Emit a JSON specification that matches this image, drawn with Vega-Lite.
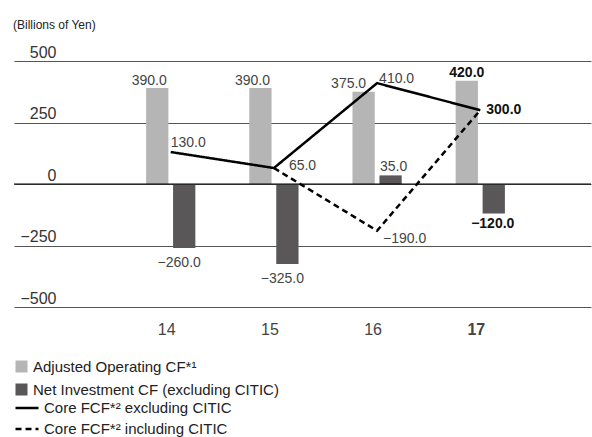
{
  "$schema": "https://vega.github.io/schema/vega-lite/v6.json",
  "width": 577,
  "height": 246,
  "autosize": {"type": "none"},
  "padding": {"left": 14, "top": 61, "right": 1, "bottom": 130},
  "background": "white",
  "title": {"text": "(Billions of Yen)", "anchor": "start", "frame": "group", "offset": 12, "fontSize": 12, "fontWeight": "normal", "color": "#222", "font": "Liberation Sans", "dx": -1},
  "config": {"view": {"stroke": null}, "font": "Liberation Sans"},
  "datasets": {
    "bars": [
      {"year": "14", "series": "Adjusted Operating CF*¹", "key": "op", "value": 390},
      {"year": "15", "series": "Adjusted Operating CF*¹", "key": "op", "value": 390},
      {"year": "16", "series": "Adjusted Operating CF*¹", "key": "op", "value": 375},
      {"year": "17", "series": "Adjusted Operating CF*¹", "key": "op", "value": 420},
      {"year": "14", "series": "Net Investment CF (excluding CITIC)", "key": "inv", "value": -260},
      {"year": "15", "series": "Net Investment CF (excluding CITIC)", "key": "inv", "value": -325},
      {"year": "16", "series": "Net Investment CF (excluding CITIC)", "key": "inv", "value": 35},
      {"year": "17", "series": "Net Investment CF (excluding CITIC)", "key": "inv", "value": -120}
    ],
    "lines": [
      {"year": "14", "series": "Core FCF*² excluding CITIC", "key": "ex", "value": 130},
      {"year": "15", "series": "Core FCF*² excluding CITIC", "key": "ex", "value": 65},
      {"year": "16", "series": "Core FCF*² excluding CITIC", "key": "ex", "value": 410},
      {"year": "17", "series": "Core FCF*² excluding CITIC", "key": "ex", "value": 300},
      {"year": "15", "series": "Core FCF*² including CITIC", "key": "in", "value": 65},
      {"year": "16", "series": "Core FCF*² including CITIC", "key": "in", "value": -190},
      {"year": "17", "series": "Core FCF*² including CITIC", "key": "in", "value": 300}
    ]
  },
  "encoding": {
    "x": {
      "field": "year", "type": "ordinal",
      "scale": {"paddingInner": 0, "paddingOuter": 0.796, "align": 0.64},
      "axis": {"title": null, "domain": false, "ticks": false, "tickSize": 0, "labelPadding": 14, "labelFontSize": 16, "labelColor": "#444", "labelAngle": 0, "labelOffset": -4,
        "labelFontWeight": {"condition": {"test": "datum.value == '17'", "value": "bold"}, "value": "normal"}}
    },
    "y": {
      "field": "value", "type": "quantitative",
      "scale": {"domain": [-500, 500], "nice": false, "zero": false},
      "axis": {"title": null, "values": [-500, -250, 0, 250, 500], "grid": true, "gridColor": "#555", "gridWidth": 1, "domain": false, "ticks": false, "tickSize": 0,
        "labelAlign": "right", "labelPadding": -42, "labelBaseline": "alphabetic", "labelOffset": -4, "labelFontSize": 16, "labelColor": "#333"}
    }
  },
  "layer": [
    {
      "data": {"name": "bars"},
      "mark": {"type": "bar"},
      "encoding": {
        "xOffset": {"field": "series", "type": "nominal", "scale": {"domain": ["Adjusted Operating CF*¹", "Net Investment CF (excluding CITIC)"], "paddingInner": 0.174, "paddingOuter": 1.326}},
        "fill": {"field": "series", "type": "nominal",
          "scale": {"domain": ["Adjusted Operating CF*¹", "Net Investment CF (excluding CITIC)"], "range": ["#b5b5b5", "#595757"]},
          "legend": {"title": null, "orient": "none", "legendX": 0, "legendY": 298, "symbolType": "square", "symbolSize": 144, "symbolStrokeWidth": 0, "labelFontSize": 15, "labelColor": "#222", "labelOffset": 4, "labelLimit": 500, "rowPadding": 7, "padding": 0}}
      }
    },
    {
      "data": {"values": [{"z": 0}]},
      "mark": {"type": "rule", "color": "#000", "strokeWidth": 1.2},
      "encoding": {"y": {"field": "z", "type": "quantitative"}, "x": {"value": 0}, "x2": {"value": 577}}
    },
    {
      "data": {"name": "lines"},
      "mark": {"type": "line", "color": "black", "strokeWidth": 2.5},
      "encoding": {
        "strokeDash": {"field": "series", "type": "nominal",
          "scale": {"domain": ["Core FCF*² excluding CITIC", "Core FCF*² including CITIC"], "range": [[1, 0], [6, 4]]},
          "legend": {"title": null, "orient": "none", "legendX": 0, "legendY": 334, "symbolType": "stroke", "symbolSize": 529, "symbolStrokeWidth": 2.5, "symbolStrokeColor": "black", "labelFontSize": 15, "labelColor": "#222", "labelOffset": 4, "labelLimit": 500, "rowPadding": -3, "padding": 0}}
      }
    },
    {
      "data": {"name": "bars"},
      "transform": [{"filter": "datum.key == 'op' && (datum.year == '14' || datum.year == '15')"}],
      "mark": {"type": "text", "dx": -8, "dy": -3, "baseline": "alphabetic", "fontSize": 14, "color": "#444"},
      "encoding": {"xOffset": {"field": "series", "type": "nominal"}, "text": {"field": "value", "type": "quantitative", "format": ".1f"}}
    },
    {
      "data": {"name": "bars"},
      "transform": [{"filter": "datum.key == 'op' && datum.year == '16'"}],
      "mark": {"type": "text", "dx": -15, "dy": -4, "baseline": "alphabetic", "fontSize": 14, "color": "#444"},
      "encoding": {"xOffset": {"field": "series", "type": "nominal"}, "text": {"field": "value", "type": "quantitative", "format": ".1f"}}
    },
    {
      "data": {"name": "bars"},
      "transform": [{"filter": "datum.key == 'op' && datum.year == '17'"}],
      "mark": {"type": "text", "dx": 0, "dy": -4, "baseline": "alphabetic", "fontSize": 14, "fontWeight": "bold", "color": "#111"},
      "encoding": {"xOffset": {"field": "series", "type": "nominal"}, "text": {"field": "value", "type": "quantitative", "format": ".1f"}}
    },
    {
      "data": {"name": "bars"},
      "transform": [{"filter": "datum.key == 'inv' && datum.value < 0 && datum.year != '17'"}],
      "mark": {"type": "text", "dx": -5, "dy": 19, "baseline": "alphabetic", "fontSize": 14, "color": "#444"},
      "encoding": {"xOffset": {"field": "series", "type": "nominal"}, "text": {"field": "value", "type": "quantitative", "format": ".1f"}}
    },
    {
      "data": {"name": "bars"},
      "transform": [{"filter": "datum.key == 'inv' && datum.year == '16'"}],
      "mark": {"type": "text", "dx": 3, "dy": -4, "baseline": "alphabetic", "fontSize": 14, "color": "#444"},
      "encoding": {"xOffset": {"field": "series", "type": "nominal"}, "text": {"field": "value", "type": "quantitative", "format": ".1f"}}
    },
    {
      "data": {"name": "bars"},
      "transform": [{"filter": "datum.key == 'inv' && datum.year == '17'"}],
      "mark": {"type": "text", "dx": -1, "dy": 14, "baseline": "alphabetic", "fontSize": 14, "fontWeight": "bold", "color": "#111"},
      "encoding": {"xOffset": {"field": "series", "type": "nominal"}, "text": {"field": "value", "type": "quantitative", "format": ".1f"}}
    },
    {
      "data": {"name": "lines"},
      "transform": [{"filter": "datum.key == 'ex' && datum.year == '14'"}],
      "mark": {"type": "text", "align": "left", "dx": 0, "dy": -5, "baseline": "alphabetic", "fontSize": 14, "color": "#444"},
      "encoding": {"text": {"field": "value", "type": "quantitative", "format": ".1f"}}
    },
    {
      "data": {"name": "lines"},
      "transform": [{"filter": "datum.key == 'ex' && datum.year == '16'"}],
      "mark": {"type": "text", "align": "left", "dx": 2, "dy": 0, "baseline": "alphabetic", "fontSize": 14, "color": "#444"},
      "encoding": {"text": {"field": "value", "type": "quantitative", "format": ".1f"}}
    },
    {
      "data": {"name": "lines"},
      "transform": [{"filter": "datum.key == 'ex' && datum.year == '15'"}],
      "mark": {"type": "text", "align": "left", "dx": 15, "dy": 2, "baseline": "alphabetic", "fontSize": 14, "color": "#444"},
      "encoding": {"text": {"field": "value", "type": "quantitative", "format": ".1f"}}
    },
    {
      "data": {"name": "lines"},
      "transform": [{"filter": "datum.key == 'ex' && datum.year == '17'"}],
      "mark": {"type": "text", "align": "left", "dx": 6, "dy": 0, "baseline": "middle", "fontSize": 14, "fontWeight": "bold", "color": "#111"},
      "encoding": {"text": {"field": "value", "type": "quantitative", "format": ".1f"}}
    },
    {
      "data": {"name": "lines"},
      "transform": [{"filter": "datum.key == 'in' && datum.year == '16'"}],
      "mark": {"type": "text", "align": "left", "dx": 6, "dy": 12, "baseline": "alphabetic", "fontSize": 14, "color": "#444"},
      "encoding": {"text": {"field": "value", "type": "quantitative", "format": ".1f"}}
    }
  ]
}
